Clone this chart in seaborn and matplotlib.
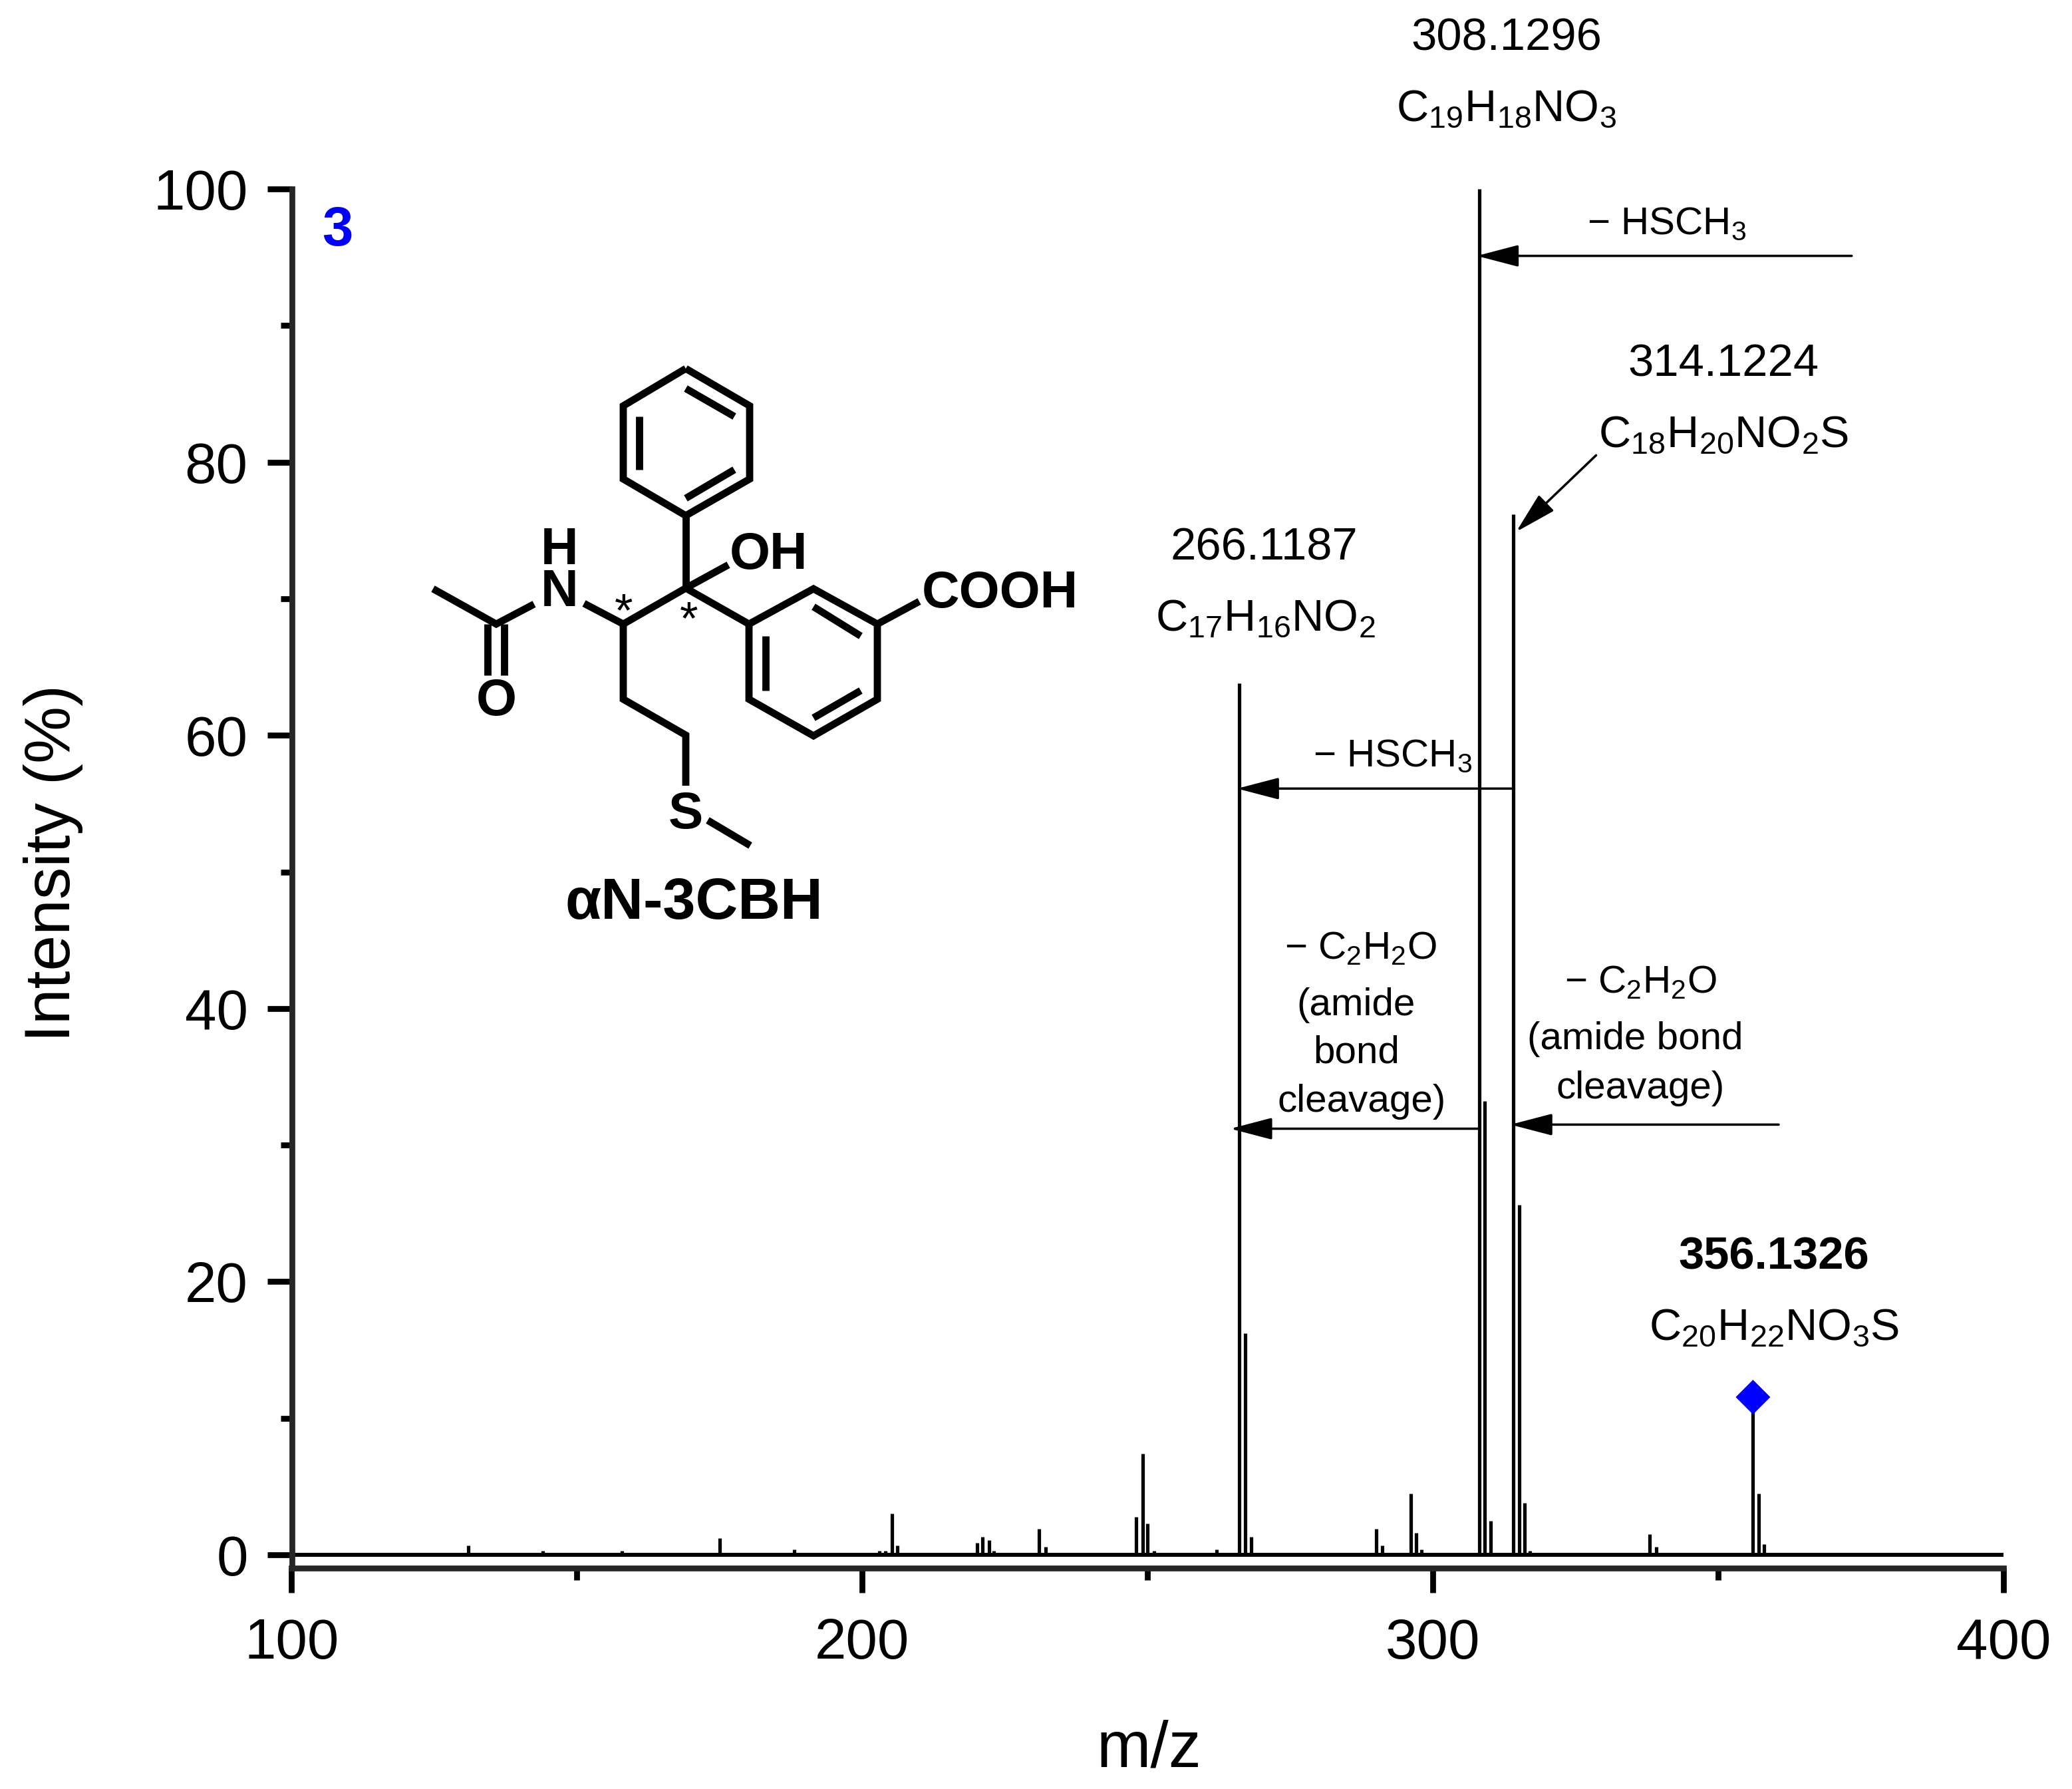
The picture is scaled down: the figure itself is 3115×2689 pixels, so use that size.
import pandas as pd
import matplotlib
matplotlib.use('Agg')
import matplotlib.pyplot as plt
from matplotlib.patches import FancyArrowPatch
from matplotlib.ticker import MultipleLocator
import seaborn as sns

# peak list
mz = [131.0, 144.0, 157.9, 175.0, 176.0, 188.1, 203.0, 204.0, 205.2, 206.1,
      220.1, 221.1, 222.2, 223.1, 231.0, 232.1, 240.0, 248.0, 249.1, 250.0, 251.1,
      262.1, 264.1, 266.1, 267.1, 268.1, 269.1, 290.1, 291.1, 296.1, 297.1, 298.0,
      308.1, 309.1, 310.1, 311.1, 314.1, 315.1, 316.1, 317.0,
      338.0, 339.1, 356.1, 357.1, 358.0]
intensity = [0.7, 0.3, 0.3, 1.2, 0.15, 0.4, 0.3, 0.3, 3.0, 0.7,
             0.9, 1.3, 1.1, 0.3, 1.9, 0.6, 0.15, 2.8, 7.4, 2.3, 0.3,
             0.4, 0.15, 63.8, 16.2, 1.3, 0.15, 1.9, 0.7, 4.5, 1.6, 0.4,
             100.0, 33.2, 2.5, 0.15, 76.2, 25.6, 3.8, 0.3,
             1.5, 0.6, 11.5, 4.5, 0.8]
precursor_mz = [356.1]
precursor_int = [11.55]
baseline_x = [100, 400]
baseline_y = [0, 0]

# (start mz, start %, tip mz, tip %)
loss_arrows = [(373.4, 95.1, 307.7, 95.1),
               (328.6, 80.5, 314.6, 74.9),
               (314.1, 56.1, 265.7, 56.1),
               (308.1, 31.2, 264.5, 31.2),
               (360.6, 31.5, 313.6, 31.5)]

W, H = 3115, 2689

sns.set_theme(style='ticks')
plt.rcParams['font.family'] = ['Liberation Sans', 'DejaVu Sans']
plt.rcParams['mathtext.default'] = 'regular'
plt.rcParams['text.color'] = 'black'
plt.rcParams['axes.labelcolor'] = 'black'
plt.rcParams['xtick.color'] = 'black'
plt.rcParams['ytick.color'] = 'black'

fig = plt.figure(figsize=(W / 300, H / 300), dpi=300, facecolor='white')
ax = fig.add_axes([438.5 / W, 1 - 2357 / H, (3012 - 438.5) / W, (2357 - 284) / H])

# every peak is a two point line, one unit per peak
stems = pd.DataFrame({'peak': list(range(len(mz))) * 2,
                      'mz': mz * 2,
                      'intensity': [0.0] * len(mz) + intensity})
sns.lineplot(data=stems, x='mz', y='intensity', units='peak', estimator=None, sort=False,
             color='black', linewidth=1.25, solid_capstyle='butt', clip_on=False, ax=ax)
sns.lineplot(x=baseline_x, y=baseline_y, color='black', linewidth=1.44,
             solid_capstyle='butt', ax=ax)
sns.scatterplot(x=precursor_mz, y=precursor_int, marker='D', s=78, color='#0000ff',
                edgecolor='none', clip_on=False, zorder=5, ax=ax)

ax.set_xlim(100, 400)
ax.set_ylim(-0.97, 100)
ax.set_xticks([100, 200, 300, 400])
ax.set_yticks([0, 20, 40, 60, 80, 100])
ax.xaxis.set_minor_locator(MultipleLocator(50))
ax.yaxis.set_minor_locator(MultipleLocator(10))
ax.tick_params(which='major', length=8.8, width=2.1, labelsize=20.5, pad=7)
ax.tick_params(axis='x', which='major', pad=9)
ax.tick_params(which='minor', length=4.2, width=2.1)
ax.set_xlabel('')
ax.set_ylabel('')
sns.despine(ax=ax)
for side in ['left', 'bottom']:
    ax.spines[side].set_linewidth(2.1)
ax.patch.set_alpha(0)

for x0, y0, x1, y1 in loss_arrows:
    ax.add_patch(FancyArrowPatch((x0, y0), (x1, y1), arrowstyle='-|>,head_length=13,head_width=3.4',
                                 mutation_scale=1, shrinkA=0, shrinkB=0, color='black',
                                 linewidth=0.85, clip_on=False, zorder=4))

# overlay in picture pixels for the labels and the structure drawing
ov = fig.add_axes([0, 0, 1, 1])
ov.set_xlim(0, W)
ov.set_ylim(H, 0)
ov.axis('off')
ov.patch.set_alpha(0)


def label(x, y, s, size=16.5, **kw):
    ov.text(x, y + 5, s, fontsize=size, ha='center', va='center', **kw)


label(80, 1292, 'Intensity (%)', size=23.2, rotation=90)
label(1727, 2625, 'm/z', size=23.5)
label(507, 342, '3', size=20, color='#0000ff', fontweight='bold')

label(2265, 52, '308.1296')
label(2265, 160, r'C$_{19}$H$_{18}$NO$_{3}$', size=16)
label(2506, 332, r'− HSCH$_{3}$', size=14)
label(2591, 542, '314.1224')
label(2591, 650, r'C$_{18}$H$_{20}$NO$_{2}$S', size=16)
label(1900, 819, '266.1187')
label(1902, 926, r'C$_{17}$H$_{16}$NO$_{2}$', size=16)
label(2094, 1132, r'− HSCH$_{3}$', size=14)
label(2045, 1421, r'− C$_{2}$H$_{2}$O', size=14)
label(2039, 1506, '(amide', size=14)
label(2039, 1578, 'bond', size=14)
label(2047, 1651, 'cleavage)', size=14)
label(2466, 1472, r'− C$_{2}$H$_{2}$O', size=14)
label(2458, 1557, '(amide bond', size=14)
label(2466, 1631, 'cleavage)', size=14)
label(2667, 1885, '356.1326', fontweight='bold')
label(2667, 1992, r'C$_{20}$H$_{22}$NO$_{3}$S', size=16)

# structure of the compound, bonds as pixel polylines
bonds = [
    [(1031, 554), (1127, 610), (1127, 720), (1031, 775), (937, 720), (937, 610), (1031, 554)],
    [(1031, 584), (1104, 626)],
    [(961, 626), (961, 706)],
    [(1031, 749), (1104, 706)],
    [(1031, 775), (1031, 884)],
    [(1031, 884), (1095, 849)],
    [(937, 938), (1031, 884), (1126, 938)],
    [(1126, 938), (1223, 885), (1319, 938), (1319, 1051), (1223, 1106), (1126, 1051), (1126, 938)],
    [(1223, 912), (1294, 956)],
    [(1151, 956), (1151, 1038)],
    [(1223, 1079), (1294, 1038)],
    [(1319, 938), (1382, 904)],
    [(937, 938), (878, 907)],
    [(803, 908), (746, 938), (651, 885)],
    [(733, 938), (733, 1015)],
    [(758, 938), (758, 1015)],
    [(937, 938), (937, 1051), (1031, 1105), (1031, 1181)],
    [(1064, 1233), (1128, 1271)],
]
for b in bonds:
    ov.plot([p[0] for p in b], [p[1] for p in b], color='black', linewidth=2.6,
            solid_joinstyle='miter', solid_capstyle='butt')

label(1503, 887, 'COOH', size=18.8, fontweight='bold')
label(1155, 829, 'OH', size=18.8, fontweight='bold')
label(841, 854, 'H\nN', size=18.8, fontweight='bold', linespacing=0.82)
label(746, 1050, 'O', size=18.8, fontweight='bold')
label(1031, 1219, 'S', size=18.8, fontweight='bold')
label(938, 918, '*', size=17)
label(1036, 930, '*', size=17)
label(1043, 1354, 'αN-3CBH', size=21.2, fontweight='bold')

fig.savefig('out.png', dpi=300, facecolor='white')
